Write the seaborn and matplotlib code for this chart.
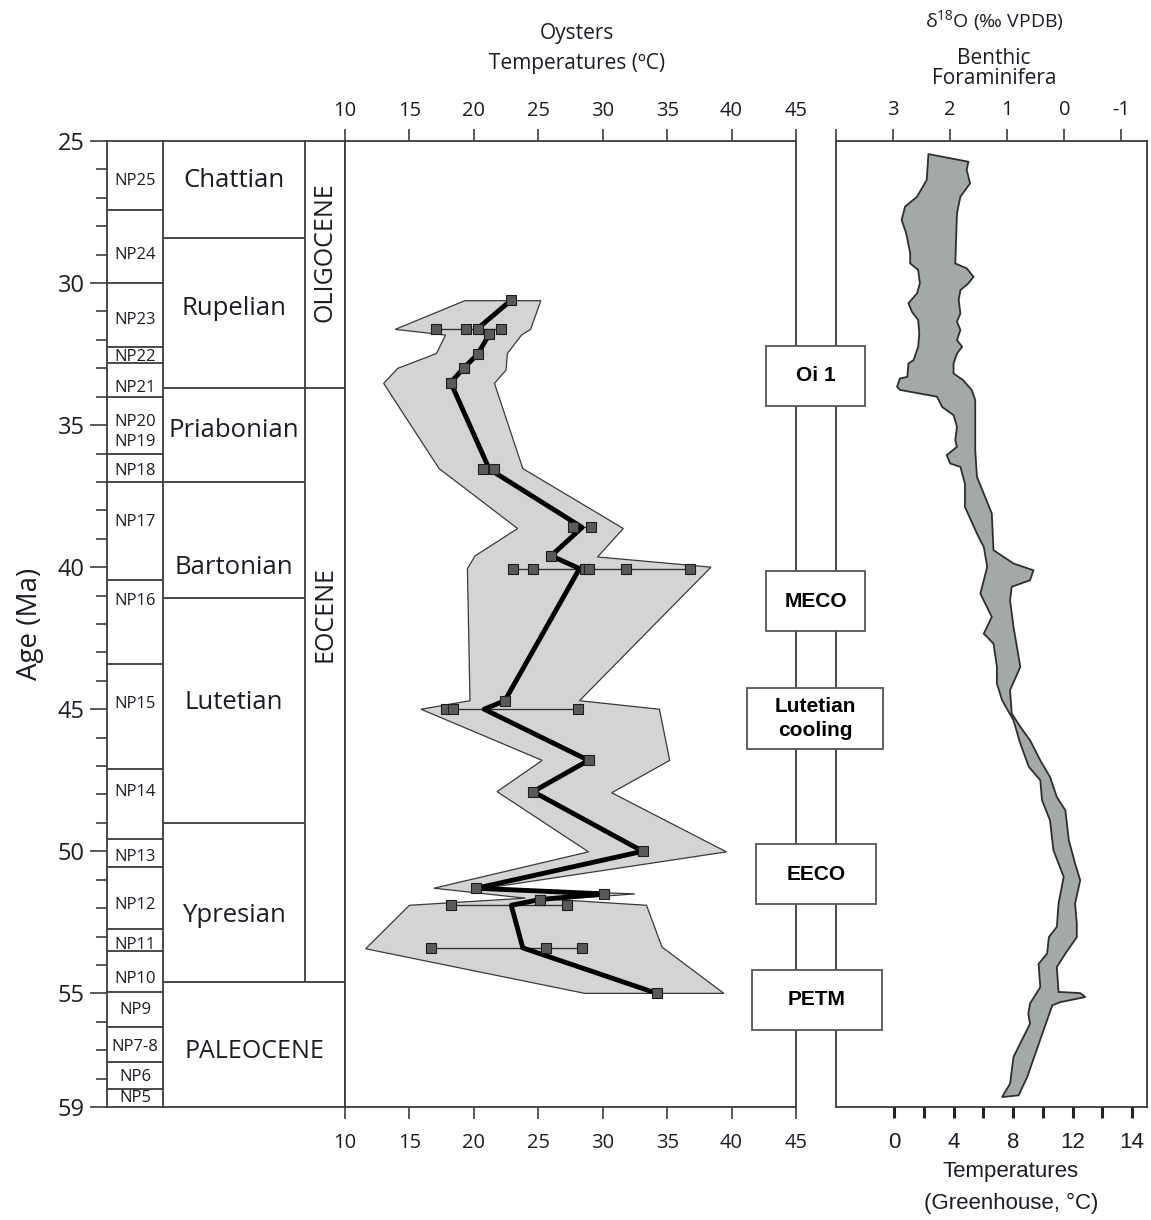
import numpy as np
import pandas as pd
import matplotlib
matplotlib.use("Agg")
import matplotlib.pyplot as plt
from matplotlib.patches import Rectangle
import seaborn as sns

# ---- stratigraphy (Ma) ----
np_bounds = [25.0, 27.43, 30.0, 32.26, 32.8, 34.0, 36.0, 37.0, 40.45, 43.4, 47.1,
             49.55, 50.55, 52.72, 53.51, 54.95, 56.18, 57.42, 58.36, 59.0]
np_zones = ["NP25", "NP24", "NP23", "NP22", "NP21", "NP20", "NP19", "NP18", "NP17", "NP16",
            "NP15", "NP14", "NP13", "NP12", "NP11", "NP10", "NP9", "NP7-8", "NP6", "NP5"]
np_label_ages = [26.4, 29.0, 31.3, 32.6, 33.7, 34.9, 35.6, 36.6, 38.4, 41.2,
                 44.8, 47.9, 50.2, 51.9, 53.3, 54.5, 55.6, 56.9, 57.96, 58.7]
stage_names = ["Chattian", "Rupelian", "Priabonian", "Bartonian", "Lutetian", "Ypresian"]
stage_bounds = [25.0, 28.4, 33.7, 37.0, 41.1, 49.0, 54.6]
stage_label_ages = [26.4, 30.9, 35.2, 40.0, 44.75, 52.25]
epoch_names = ["OLIGOCENE", "EOCENE"]
epoch_bounds = [25.0, 33.7, 54.6]
epoch_label_ages = [28.9, 41.65]
paleocene_label_age = 57.05
age_ticks = [25, 30, 35, 40, 45, 50, 55, 59]

# ---- oysters ----
sample_age = [30.6, 31.6, 31.6, 31.6, 31.6, 31.8, 32.5, 33.0, 33.5, 36.55, 36.55,
              38.6, 38.6, 39.6, 40.05, 40.05, 40.05, 40.05, 40.05, 40.05, 44.7,
              45.0, 45.0, 45.0, 46.8, 47.9, 50.0, 51.3, 51.5, 51.7, 51.9, 51.9,
              53.4, 53.4, 53.4, 55.0]
sample_temp = [22.9, 17.1, 19.4, 20.3, 22.1, 21.2, 20.3, 19.2, 18.2, 20.7, 21.6,
               27.7, 29.1, 26.0, 23.0, 24.6, 28.6, 28.9, 31.8, 36.8, 22.4,
               17.8, 18.4, 28.1, 28.9, 24.6, 33.1, 20.2, 30.1, 25.1, 18.2, 27.2,
               16.7, 25.6, 28.4, 34.2]
mean_age = [30.6, 31.6, 31.8, 32.5, 33.0, 33.5, 36.55, 38.6, 39.6, 40.05, 44.7,
            45.0, 46.8, 47.9, 50.0, 51.3, 51.5, 51.7, 51.9, 53.4, 55.0]
mean_temp = [22.9, 20.3, 21.2, 20.3, 19.2, 18.2, 21.2, 28.4, 26.0, 28.2, 22.4,
             20.8, 28.9, 24.6, 33.1, 20.2, 30.1, 25.1, 22.9, 23.8, 34.2]
env_left_age = [30.62, 31.63, 31.83, 32.48, 33.0, 33.53, 36.53, 38.64, 39.6, 40.05,
                44.7, 45.0, 46.8, 47.9, 50.02, 51.3, 51.65, 51.9, 53.43, 55.0]
env_left_temp = [19.3, 13.9, 17.8, 17.1, 14.1, 13.0, 17.3, 23.4, 20.1, 19.5,
                 19.7, 15.9, 25.3, 21.8, 28.9, 16.9, 24.0, 15.0, 11.6, 28.6]
env_right_age = [30.62, 31.63, 31.83, 32.48, 33.06, 33.53, 36.53, 38.64, 39.64, 40.0,
                 44.7, 45.0, 46.8, 47.94, 50.02, 51.3, 51.5, 51.7, 51.9, 53.37, 55.0]
env_right_temp = [25.2, 24.4, 23.7, 22.6, 22.5, 21.6, 23.8, 31.6, 29.6, 38.4,
                  28.2, 34.4, 35.2, 30.7, 39.6, 20.9, 32.5, 26.4, 33.4, 34.6, 39.4]

# ---- benthic foraminifera d18O envelope ----
bf_left_age = [25.46, 26.37, 26.96, 27.31, 27.78, 28.25, 28.95, 29.31, 29.54, 30.01,
               30.36, 30.71, 31.01, 31.30, 31.77, 32.24, 32.71, 32.83, 33.30, 33.36,
               33.65, 33.76, 34.0, 34.36, 34.65, 35.06, 35.53, 35.76, 36.06, 36.35,
               36.47, 37.06, 37.88, 38.82, 39.29, 39.99, 40.93, 41.75, 42.34, 42.69,
               43.51, 44.10, 44.68, 45.39, 46.21, 47.03, 47.50, 48.20, 48.91, 49.96,
               50.90, 51.84, 52.66, 53.02, 53.60, 53.96, 54.78, 55.36, 55.72, 56.07,
               57.24, 58.18, 58.65]
bf_left_d18o = [2.38, 2.41, 2.58, 2.79, 2.85, 2.77, 2.70, 2.70, 2.56, 2.53,
                2.58, 2.73, 2.67, 2.56, 2.54, 2.56, 2.64, 2.73, 2.75, 2.88,
                2.93, 2.88, 2.23, 2.14, 1.94, 1.88, 1.91, 1.88, 2.06, 2.00,
                1.82, 1.74, 1.74, 1.53, 1.41, 1.35, 1.47, 1.27, 1.41, 1.24,
                1.18, 1.18, 1.09, 0.89, 0.77, 0.62, 0.42, 0.39, 0.25, 0.19,
                0.01, 0.10, 0.13, 0.27, 0.30, 0.45, 0.42, 0.60, 0.63, 0.60,
                0.89, 0.95, 1.09]
bf_right_age = [25.73, 26.02, 26.49, 26.96, 27.55, 29.31, 29.48, 29.78, 30.01, 30.25,
                30.60, 31.07, 31.36, 31.65, 32.01, 32.24, 32.48, 32.83, 33.18, 33.42,
                33.77, 34.12, 35.88, 36.82, 38.11, 39.40, 39.87, 40.11, 40.46, 40.69,
                41.16, 42.10, 42.80, 43.51, 44.33, 45.15, 45.62, 46.09, 46.80, 47.38,
                48.09, 48.56, 49.61, 50.43, 51.02, 51.84, 52.55, 53.02, 53.60, 54.07,
                54.95, 54.99, 55.13, 55.31, 55.42, 57.95, 58.59]
bf_right_d18o = [1.68, 1.71, 1.65, 1.82, 1.88, 1.91, 1.71, 1.59, 1.68, 1.82,
                 1.85, 1.82, 1.88, 1.82, 1.88, 1.79, 1.88, 1.94, 1.94, 1.77,
                 1.62, 1.56, 1.56, 1.53, 1.27, 1.24, 0.89, 0.54, 0.60, 0.92,
                 0.95, 0.89, 0.83, 0.77, 0.95, 0.92, 0.77, 0.60, 0.42, 0.25,
                 0.13, -0.02, -0.08, -0.19, -0.28, -0.19, -0.22, -0.22, -0.02, 0.13,
                 0.10, -0.28, -0.37, 0.07, 0.21, 0.65, 0.80]

# ---- climate events ----
event_names = ["Oi 1", "MECO", "Lutetian\ncooling", "EECO", "PETM"]
event_ages = [33.27, 41.2, 45.33, 50.81, 55.23]

oyster_ticks = [10, 15, 20, 25, 30, 35, 40, 45]
d18o_ticks = [4, 3, 2, 1, 0, -1]
d18o_labels = ["", "3", "2", "1", "0", "-1"]
gh_ticks = [0, 2, 4, 6, 8, 10, 12, 14, 16]
gh_labels = ["0", "", "4", "", "8", "", "12", "", "14"]

sns.set_theme(style="white")
plt.rcParams["font.family"] = ["Open Sans", "DejaVu Sans"]
plt.rcParams["mathtext.default"] = "regular"

LINE = "#3c3c3c"
TXT = "#1c1c24"
ARIAL = ["Liberation Sans", "DejaVu Sans"]
W, H = 1151, 1220
TOP, BOT = 141, 1107

fig = plt.figure(figsize=(W / 100, H / 100), dpi=100)


def px_axes(x0, x1, **kw):
    return fig.add_axes([x0 / W, 1 - BOT / H, (x1 - x0) / W, (BOT - TOP) / H], **kw)


def frame(ax):
    for sp in ax.spines.values():
        sp.set_visible(True)
        sp.set_color(LINE)
        sp.set_linewidth(1.3)


# ---------- stratigraphic column ----------
ax_s = px_axes(107, 345)
ax_s.set_xlim(0, 1)
ax_s.set_ylim(59, 25)
frame(ax_s)
ax_s.set_xticks([])
ax_s.set_yticks(age_ticks)
ax_s.set_yticks(np.arange(25, 60, 1), minor=True)
ax_s.tick_params(axis="y", which="major", left=True, length=12, width=1.2, color=LINE,
                 labelsize=17, pad=4, labelcolor=TXT)
ax_s.tick_params(axis="y", which="minor", left=True, length=8, width=1.2, color=LINE)
ax_s.set_ylabel("Age (Ma)", fontsize=20, color=TXT, labelpad=10)

c_np, c_stage = 0.235, 0.832
ax_s.hlines(np_bounds[1:-1], 0, c_np, color=LINE, lw=1.3)
ax_s.axvline(c_np, color=LINE, lw=1.3)
for b in stage_bounds[1:]:
    ax_s.hlines(b, c_np, 1.0 if b in epoch_bounds else c_stage, color=LINE, lw=1.3)
ax_s.vlines(c_stage, epoch_bounds[0], epoch_bounds[-1], color=LINE, lw=1.3)

for name, age in zip(np_zones, np_label_ages):
    ax_s.text(c_np / 2, age, name, ha="center", va="center", fontsize=12, color=TXT)
for name, age in zip(stage_names, stage_label_ages):
    ax_s.text((c_np + c_stage) / 2, age, name, ha="center", va="center", fontsize=18.5, color=TXT)
for name, age in zip(epoch_names, epoch_label_ages):
    ax_s.text((c_stage + 1) / 2, age, name, ha="center", va="center", rotation=90,
              fontsize=18, color=TXT)
ax_s.text((c_np + 1) / 2, paleocene_label_age, "PALEOCENE", ha="center", va="center",
          fontsize=18, color=TXT)

# ---------- oyster temperatures ----------
ax_o = px_axes(345, 796, sharey=ax_s)
frame(ax_o)
ax_o.set_xlim(10, 45)
ax_o.set_xticks(oyster_ticks)
ax_o.tick_params(axis="x", bottom=True, top=False, labelbottom=True, labeltop=False,
                 length=8.5, width=1.2, color=LINE, labelsize=14.5, pad=10, labelcolor=TXT)
ax_o.tick_params(axis="y", which="both", left=False, labelleft=False)
ax_top = ax_o.secondary_xaxis("top")
ax_top.set_xticks(oyster_ticks)
ax_top.tick_params(axis="x", length=8.5, width=1.2, color=LINE, labelsize=14.5, pad=6,
                   labelcolor=TXT)
ax_top.spines["top"].set_visible(False)

ax_o.fill(env_left_temp + env_right_temp[::-1], env_left_age + env_right_age[::-1],
          facecolor="#d3d5d3", edgecolor="#3a3a3a", lw=0.9, zorder=1)

samples = pd.DataFrame({"age": sample_age, "temp": sample_temp})
spans = samples.groupby("age")["temp"].agg(["min", "max"])
spans = spans[spans["max"] > spans["min"]]
ax_o.hlines(spans.index, spans["min"], spans["max"], color="#333333", lw=1.0, zorder=2)

sns.lineplot(x=mean_temp, y=mean_age, sort=False, estimator=None, color="black",
             linewidth=3.5, ax=ax_o, zorder=3)
sns.scatterplot(data=samples, x="temp", y="age", marker="s", s=44, color="#5a5a5a",
                edgecolor="#1e1e1e", linewidth=0.8, ax=ax_o, zorder=4)
ax_o.set_xlabel("")
ax_o.set_ylabel("")

# ---------- benthic foraminifera ----------
ax_r = px_axes(836, 1147, sharey=ax_s)
frame(ax_r)
ax_r.set_xlim(4.0, -1.45)
ax_r.fill(bf_left_d18o + bf_right_d18o[::-1], bf_left_age + bf_right_age[::-1],
          facecolor="#a3a8a8", edgecolor="#2e2e2e", lw=1.3, zorder=2)

ax_g = ax_r.twiny()
ax_g.set_xlim(-3.9, 17.0)
ax_g.xaxis.set_ticks_position("bottom")
ax_g.set_xticks(gh_ticks)
ax_g.set_xticklabels(gh_labels)
ax_g.tick_params(axis="x", top=False, labeltop=False, bottom=True, labelbottom=True,
                 length=8, width=2.2, color="#222222", labelsize=16, pad=10, labelcolor=TXT)
for lbl in ax_g.get_xticklabels():
    lbl.set_fontfamily(ARIAL)
for sp in ax_g.spines.values():
    sp.set_visible(False)
ax_g.grid(False)

# top axis of the benthic panel (set after twiny, which resets it)
ax_r.xaxis.set_ticks_position("top")
ax_r.set_xticks(d18o_ticks)
ax_r.set_xticklabels(d18o_labels)
ax_r.tick_params(axis="x", bottom=False, labelbottom=False, top=True, labeltop=True,
                 length=9, width=1.2, color=LINE, labelsize=14.5, pad=6, labelcolor=TXT)
ax_r.tick_params(axis="y", which="both", left=False, labelleft=False)
ax_r.grid(False)

# ---------- event boxes ----------
ax_e = px_axes(740, 890, sharey=ax_s)
ax_e.set_xlim(0, 150)
ax_e.axis("off")
box_x0 = [26, 26, 7, 16, 12]
box_x1 = [125, 125, 143, 136, 142]
box_h = 2.12
for name, age, x0, x1 in zip(event_names, event_ages, box_x0, box_x1):
    ax_e.add_patch(Rectangle((x0, age - box_h / 2), x1 - x0, box_h, facecolor="white",
                             edgecolor="#555555", lw=1.3, zorder=5))
    ax_e.text((x0 + x1) / 2, age, name, ha="center", va="center", fontsize=15,
              fontweight="bold", family=ARIAL, color="black", linespacing=1.3, zorder=6)

# ---------- headers ----------
fig.text(577 / W, 1 - 33 / H, "Oysters", ha="center", va="center", fontsize=15, color=TXT)
fig.text(577 / W, 1 - 63 / H, "Temperatures (ºC)", ha="center", va="center", fontsize=15,
         color=TXT)
fig.text(994 / W, 1 - 21 / H, r"δ$^{18}$O (‰ VPDB)", ha="center", va="center", fontsize=14,
         color=TXT)
fig.text(994 / W, 1 - 58 / H, "Benthic", ha="center", va="center", fontsize=15, color=TXT)
fig.text(994 / W, 1 - 79 / H, "Foraminifera", ha="center", va="center", fontsize=15, color=TXT)
fig.text(1011 / W, 1 - 1172 / H, "Temperatures", ha="center", va="center", fontsize=16,
         family=ARIAL, color=TXT)
fig.text(1011 / W, 1 - 1203 / H, "(Greenhouse, °C)", ha="center", va="center", fontsize=16,
         family=ARIAL, color=TXT)

fig.savefig("out.png", dpi=100)
